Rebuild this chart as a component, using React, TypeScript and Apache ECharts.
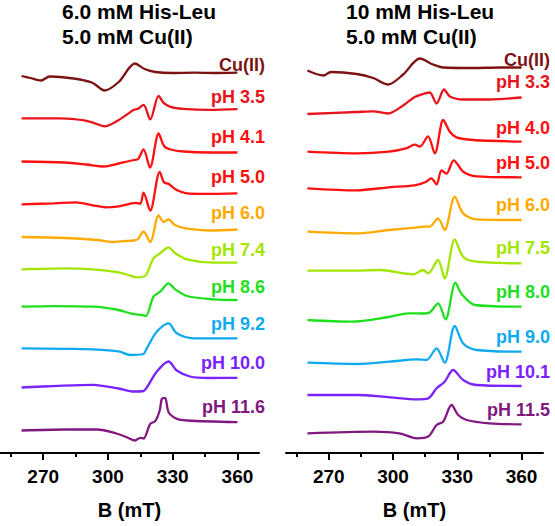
import React, { useEffect, useRef } from "react";
import * as echarts from "echarts";

// ---------- axis ----------
const FIELD_MIN = 250;
const FIELD_MAX = 370;
const FIELD_TICKS = [270, 300, 330, 360];
const FIELD_MINOR_TICKS = [255, 285, 315, 345];
const AXIS_NAME = "B (mT)";

// ---------- panel titles ----------
const LEFT_TITLE = ["6.0 mM His-Leu", "5.0 mM Cu(II)"];
const RIGHT_TITLE = ["10 mM His-Leu", "5.0 mM Cu(II)"];

// ---------- labels & colours ----------
const LEFT_LABELS = ["Cu(II)", "pH 3.5", "pH 4.1", "pH 5.0", "pH 6.0", "pH 7.4", "pH 8.6", "pH 9.2", "pH 10.0", "pH 11.6"];
const RIGHT_LABELS = ["Cu(II)", "pH 3.3", "pH 4.0", "pH 5.0", "pH 6.0", "pH 7.5", "pH 8.0", "pH 9.0", "pH 10.1", "pH 11.5"];
const COLORS = ["#7d1212", "#e8141c", "#ff1010", "#ff1010", "#ffaa00", "#a2e600", "#1ee01e", "#10aaf0", "#7a22ff", "#801880"];

// stacking offsets (vertical shift of each trace, arbitrary units)
const LEFT_OFFSETS = [377, 334.7, 291.5, 248.7, 216, 183.7, 146.3, 104.7, 65.5, 22.5];
const RIGHT_OFFSETS = [382.5, 339, 301.3, 264.7, 221.3, 182.3, 133, 90.3, 58, 19.7];

// ---------- spectra: [B (mT), signal] ----------
// 6.0 mM His-Leu
const L_CU = [[260, 0], [264, -2], [269, -4.5], [273, -0.5], [280, -1.5], [287, -3.5], [293, -7], [298.5, -14.5], [305, -6], [312.5, 12.5], [317, 7], [322, 4], [330, 3], [340, 3.3], [350, 3], [360, 3.3]];
const L_PH35 = [[260, 0], [278, 0], [289, -2], [294, -5], [298.5, -8], [304, -3], [309, 4], [312, 8.5], [314, 9.5], [316.5, 13.5], [319.6, -1], [323.5, 22.5], [325.8, 15.5], [329, 11.5], [335, 9.5], [347, 8.5], [360, 9.2]];
const L_PH41 = [[260, 0], [280, -1], [290, -3], [298, -5], [305, -2], [309, 0], [312, 1.5], [314, 2.5], [316.5, 12], [319.5, -6], [323.5, 28], [326, 15.5], [329, 12], [335, 10], [347, 9], [360, 9]];
const L_PH50 = [[260, 0], [275, 1], [285, 2], [293, -1], [299, -3], [305, -2], [310, 0.5], [313, 1.5], [315, 0.5], [316.5, 11.7], [319.6, -6.3], [324, 32.5], [326, 22], [328.2, 20.3], [331.9, 14.3], [336.6, 11], [345, 10.5], [360, 11]];
const L_PH60 = [[260, 0], [280, -1], [295, -3], [302, -5], [308, -4], [312, -3.5], [314, -2], [316.5, 5.5], [319.6, -5], [323.5, 21.7], [325.8, 15], [328.2, 17.5], [331, 12], [336.6, 8.3], [347, 6.5], [360, 7.5]];
const L_PH74 = [[260, 0], [280, 1], [293, 0], [305, -3], [310, -6], [313.4, -8], [317.3, -6.5], [321.1, 11], [324.2, 16], [328.1, 22], [331.2, 16], [336.6, 10], [349, 6.7], [360, 6.7]];
const L_PH86 = [[260, 0], [275, 0.5], [293, 0], [305, -3.3], [311, -7], [316, -8.5], [317.6, -9.3], [321.1, 10], [324.2, 15], [328.1, 23.3], [331.2, 17.3], [336.6, 10.7], [349, 7.3], [360, 6.7]];
const L_PH92 = [[260, 0], [280, -0.5], [293, -1], [305, -3], [310.3, -6.7], [316.5, -5.7], [318, 0], [322.7, 16.7], [328.1, 25], [331.9, 15], [339.7, 10], [350, 10], [360, 10]];
const L_PH100 = [[260, 0], [277, 1.7], [293, 2.7], [305, -1], [312, -4], [316.5, -3.5], [318, 0], [322.7, 16], [328.1, 26], [331.9, 17], [338, 11], [347, 9.5], [360, 9.7]];
const L_PH116 = [[260, 0], [280, 1], [295, 1], [304, -3], [309, -7], [312.6, -10], [314.9, -7.3], [316.5, -8], [319.6, 6.7], [321.9, 9.3], [324, 20], [325, 31.7], [326.5, 32.7], [328.1, 18.3], [331.9, 11.7], [336.6, 10], [360, 8.3]];

// 10 mM His-Leu
const R_CU = [[260, 0], [267.5, -5], [271, -1.5], [283, -3.5], [290.7, -7.5], [297.7, -14], [304.7, -4], [312.5, 12], [318.7, 6], [323.4, 3], [337, 2.5], [350, 3], [360, 3]];
const R_PH33 = [[260, 0], [283, 2], [290.7, 2.7], [297.7, 0.5], [304.7, 8.5], [310.1, 17], [314, 20], [317.1, 21.5], [320.3, 10.5], [323.8, 24.5], [326.5, 17.5], [332.7, 14.5], [345, 14.5], [360, 16.5]];
const R_PH40 = [[260, 0], [283, -1.7], [298, 0], [306, 3.3], [310.1, 7], [312.5, 5], [316.3, 15.3], [319.5, -1.7], [323.4, 31.7], [326.5, 20], [329.6, 14.3], [337.4, 11.7], [360, 10]];
const R_PH50 = [[260, 0], [283, -2], [298, 1], [310, 3], [315, 6], [317.8, 10], [320.3, 4], [322.6, 18], [324.9, 14.5], [328.3, 28], [332.7, 16.7], [339, 12], [360, 11]];
const R_PH60 = [[260, 0], [283, -1.7], [298, 1.7], [310, 4], [314, 5], [317, 5], [321, 13.3], [324.1, 1.7], [328.8, 35], [332.7, 18.3], [338.9, 12.3], [360, 11.7]];
const R_PH75 = [[260, 0], [280, 0], [293.8, 0.7], [309.4, -3.7], [314, 0.7], [316.4, -2.7], [321, 10.7], [324.1, -7.7], [328.8, 31.3], [332.7, 14], [338.9, 9], [360, 7.3]];
const R_PH80 = [[260, 0], [280.5, -1.7], [298, 3], [307, 6.7], [314, 6.5], [317.1, 7.5], [321, 16.7], [324.5, 0.7], [329.1, 37.3], [332, 26], [338.2, 15], [360, 13.3]];
const R_PH90 = [[260, 0], [283, -1.3], [298.5, 1], [311, 3.3], [315.6, 2.7], [320.3, 14.3], [324.1, 0], [328.8, 36.7], [332.7, 19.3], [338.9, 12.7], [360, 11]];
const R_PH101 = [[260, 0], [283, 0], [298.5, -2.3], [310.9, -4.3], [316.4, -3.3], [320.3, 6.7], [324.1, 13.3], [328, 25], [332.7, 15], [338.9, 10], [360, 9]];
const R_PH115 = [[260, 0], [290.7, 1.7], [303, 0], [310.9, -5], [316.4, -3.3], [320.3, 8.3], [323.4, 11.7], [327.3, 28.3], [330.4, 18.3], [334.3, 13.3], [345, 10], [360, 9]];

const LEFT_SPECTRA = [L_CU, L_PH35, L_PH41, L_PH50, L_PH60, L_PH74, L_PH86, L_PH92, L_PH100, L_PH116];
const RIGHT_SPECTRA = [R_CU, R_PH33, R_PH40, R_PH50, R_PH60, R_PH75, R_PH80, R_PH90, R_PH101, R_PH115];

const FONT = "'Liberation Sans', Arial, Helvetica, sans-serif";

// label placement (right edge x, centre y) — layout only
const LEFT_LABEL_X = 265;
const RIGHT_LABEL_X = 550;
const LEFT_LABEL_Y = [65, 96.7, 136.7, 177.3, 213.3, 250, 286.7, 324, 363.3, 406.7];
const RIGHT_LABEL_Y = [60, 81.7, 128.3, 163.3, 205, 248.3, 291.7, 336.7, 371.7, 410];

export default function App() {
  const ref = useRef<HTMLDivElement | null>(null);

  useEffect(() => {
    if (!ref.current) return;
    const chart = echarts.init(ref.current, undefined, { renderer: "svg" });

    const AXIS_H = 453;
    const grids = [
      { left: 0, top: 0, width: 259, height: AXIS_H },
      { left: 286, top: 0, width: 257, height: AXIS_H },
    ];

    const mainX = (gi: number) => ({
      type: "value",
      gridIndex: gi,
      min: FIELD_MIN,
      max: FIELD_MAX,
      position: "bottom",
      axisLine: { show: true, onZero: false, lineStyle: { color: "#000", width: 2 } },
      axisTick: { show: true, customValues: FIELD_TICKS, length: 7, lineStyle: { color: "#000", width: 2 } },
      axisLabel: {
        show: true,
        customValues: FIELD_TICKS,
        margin: 14,
        color: "#000",
        fontSize: 19,
        fontWeight: "bold",
        fontFamily: FONT,
      },
      splitLine: { show: false },
      name: AXIS_NAME,
      nameLocation: "middle",
      nameGap: 47,
      nameTextStyle: { color: "#000", fontSize: 20, fontWeight: "bold", fontFamily: FONT },
    });
    const minorX = (gi: number) => ({
      type: "value",
      gridIndex: gi,
      min: FIELD_MIN,
      max: FIELD_MAX,
      position: "bottom",
      axisLine: { show: false, onZero: false },
      axisTick: { show: true, customValues: FIELD_MINOR_TICKS, length: 4, lineStyle: { color: "#000", width: 2 } },
      axisLabel: { show: false },
      splitLine: { show: false },
    });

    const series: any[] = [];
    LEFT_SPECTRA.forEach((pts, i) => {
      series.push({
        type: "line",
        xAxisIndex: 0,
        yAxisIndex: 0,
        data: pts.map(([b, s]) => [b, LEFT_OFFSETS[i] + s]),
        showSymbol: false,
        smooth: 0.3,
        lineStyle: { color: COLORS[i], width: 2.3 },
        silent: true,
      });
    });
    RIGHT_SPECTRA.forEach((pts, i) => {
      series.push({
        type: "line",
        xAxisIndex: 2,
        yAxisIndex: 1,
        data: pts.map(([b, s]) => [b, RIGHT_OFFSETS[i] + s]),
        showSymbol: false,
        smooth: 0.3,
        lineStyle: { color: COLORS[i], width: 2.3 },
        silent: true,
      });
    });

    const labelStyle = { fontSize: 18, fontWeight: "bold", fontFamily: FONT };
    const graphics: any[] = [];
    LEFT_LABELS.forEach((t, i) => {
      graphics.push({
        type: "text",
        x: LEFT_LABEL_X,
        y: LEFT_LABEL_Y[i],
        style: { text: t, fill: COLORS[i], ...labelStyle, textAlign: "right", textVerticalAlign: "middle" },
      });
    });
    RIGHT_LABELS.forEach((t, i) => {
      graphics.push({
        type: "text",
        x: RIGHT_LABEL_X,
        y: RIGHT_LABEL_Y[i],
        style: { text: t, fill: COLORS[i], ...labelStyle, textAlign: "right", textVerticalAlign: "middle" },
      });
    });
    const titleStyle = { fontSize: 21, fontWeight: "bold", fontFamily: FONT };
    [[LEFT_TITLE, 62], [RIGHT_TITLE, 346]].forEach(([lines, x]: any) => {
      lines.forEach((t: string, k: number) => {
        graphics.push({
          type: "text",
          x,
          y: 11 + k * 25,
          style: { text: t, fill: "#000", ...titleStyle, textAlign: "left", textVerticalAlign: "middle" },
        });
      });
    });

    chart.setOption({
      animation: false,
      backgroundColor: "#fff",
      grid: grids,
      xAxis: [mainX(0), minorX(0), mainX(1), minorX(1)],
      yAxis: [
        { type: "value", gridIndex: 0, min: 0, max: AXIS_H, show: false },
        { type: "value", gridIndex: 1, min: 0, max: AXIS_H, show: false },
      ],
      series,
      graphic: graphics,
    });

    return () => chart.dispose();
  }, []);

  return <div ref={ref} style={{ position: "absolute", left: 0, top: 0, width: 555, height: 526 }} />;
}
